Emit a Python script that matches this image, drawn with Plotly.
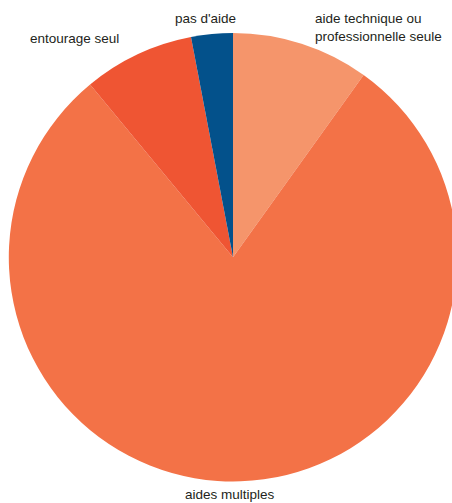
import plotly.graph_objects as go

labels = ["aide technique ou professionnelle seule", "aides multiples", "entourage seul", "pas d'aide"]
values = [9.9, 79.1, 8.0, 3.0]
colors = ["#F5956B", "#F37247", "#EF5533", "#03518B"]

W, H = 460, 503
cx, cy, r = 233, 257.3, 224.2

fig = go.Figure(go.Pie(
    labels=labels, values=values, sort=False, direction="clockwise", rotation=0,
    marker=dict(colors=colors, line=dict(width=0)),
    textinfo="none", hoverinfo="label+percent", showlegend=False,
    domain=dict(x=[(cx - r) / W, (cx + r) / W], y=[1 - (cy + r) / H, 1 - (cy - r) / H]),
))

font = dict(family="Liberation Sans, Arial, sans-serif", size=13.5, color="#231F20")

def px(x):
    return x / W

def py(y):
    return 1 - y / H

ann = [
    dict(text="pas d'aide", x=px(205), y=py(18), xanchor="center", yanchor="middle"),
    dict(text="entourage seul", x=px(28), y=py(39), xanchor="left", yanchor="middle"),
    dict(text="aide technique ou<br>professionnelle seule", x=px(313), y=py(27), xanchor="left", yanchor="middle", align="left"),
    dict(text="aides multiples", x=px(230), y=py(494.5), xanchor="center", yanchor="middle"),
]
for a in ann:
    a.update(xref="paper", yref="paper", showarrow=False, font=font)

fig.update_layout(
    width=W, height=H, margin=dict(l=0, r=0, t=0, b=0),
    paper_bgcolor="white", plot_bgcolor="white", annotations=ann,
)

fig.write_html(
    "out.html",
    config={"displayModeBar": False},
    post_script="document.body.style.margin='0';document.body.style.overflow='hidden';document.documentElement.style.overflow='hidden';",
)
